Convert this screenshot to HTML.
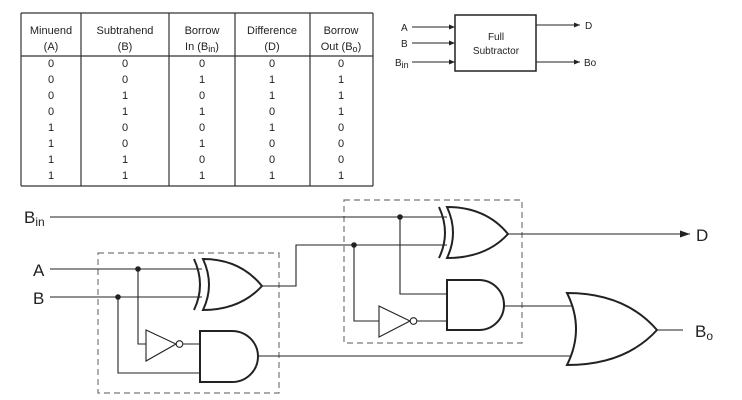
<!DOCTYPE html>
<html><head><meta charset="utf-8"><style>
body{margin:0;background:#fff;}
svg{display:block;font-family:"Liberation Sans",Arial,sans-serif;}
</style></head><body>
<svg width="742" height="400" viewBox="0 0 742 400" xmlns="http://www.w3.org/2000/svg">
<!-- Table -->
<g stroke="#333" stroke-width="1.2">
<line x1="21" y1="13" x2="373" y2="13"/>
<line x1="21" y1="186" x2="373" y2="186"/>
<line x1="21" y1="56" x2="373" y2="56"/>
<line x1="21" y1="13" x2="21" y2="186"/>
<line x1="81" y1="13" x2="81" y2="186"/>
<line x1="169" y1="13" x2="169" y2="186"/>
<line x1="235" y1="13" x2="235" y2="186"/>
<line x1="310" y1="13" x2="310" y2="186"/>
<line x1="373" y1="13" x2="373" y2="186"/>
</g>
<g font-size="11" fill="#222" text-anchor="middle">
<text x="51" y="34">Minuend</text><text x="51" y="50">(A)</text>
<text x="125" y="34">Subtrahend</text><text x="125" y="50">(B)</text>
<text x="202" y="34">Borrow</text><text x="202" y="50">In (B<tspan font-size="9" dy="2">in</tspan><tspan dy="-2">)</tspan></text>
<text x="272" y="34">Difference</text><text x="272" y="50">(D)</text>
<text x="341" y="34">Borrow</text><text x="341" y="50">Out (B<tspan font-size="9" dy="2">o</tspan><tspan dy="-2">)</tspan></text>
</g>
<g font-size="11" fill="#222" text-anchor="middle">
<text x="51" y="67">0</text><text x="125" y="67">0</text><text x="202" y="67">0</text><text x="272" y="67">0</text><text x="341" y="67">0</text>
<text x="51" y="83">0</text><text x="125" y="83">0</text><text x="202" y="83">1</text><text x="272" y="83">1</text><text x="341" y="83">1</text>
<text x="51" y="99">0</text><text x="125" y="99">1</text><text x="202" y="99">0</text><text x="272" y="99">1</text><text x="341" y="99">1</text>
<text x="51" y="115">0</text><text x="125" y="115">1</text><text x="202" y="115">1</text><text x="272" y="115">0</text><text x="341" y="115">1</text>
<text x="51" y="131">1</text><text x="125" y="131">0</text><text x="202" y="131">0</text><text x="272" y="131">1</text><text x="341" y="131">0</text>
<text x="51" y="147">1</text><text x="125" y="147">0</text><text x="202" y="147">1</text><text x="272" y="147">0</text><text x="341" y="147">0</text>
<text x="51" y="163">1</text><text x="125" y="163">1</text><text x="202" y="163">0</text><text x="272" y="163">0</text><text x="341" y="163">0</text>
<text x="51" y="179">1</text><text x="125" y="179">1</text><text x="202" y="179">1</text><text x="272" y="179">1</text><text x="341" y="179">1</text>
</g>

<!-- Block diagram -->
<defs>
<marker id="sa" markerWidth="6" markerHeight="6" refX="6" refY="3" orient="auto" markerUnits="userSpaceOnUse"><path d="M0,0.5 L6,3 L0,5.5z" fill="#222"/></marker>
<marker id="la" markerWidth="10" markerHeight="8" refX="10" refY="4" orient="auto" markerUnits="userSpaceOnUse"><path d="M0,0.5 L10,4 L0,7.5z" fill="#222"/></marker>
</defs>
<rect x="455" y="15" width="81" height="56" fill="none" stroke="#222" stroke-width="1.5"/>
<g font-size="10" fill="#222" text-anchor="middle"><text x="496" y="40">Full</text><text x="496" y="54">Subtractor</text></g>
<g stroke="#222" stroke-width="1">
<line x1="412" y1="27" x2="455" y2="27" marker-end="url(#sa)"/>
<line x1="412" y1="43" x2="455" y2="43" marker-end="url(#sa)"/>
<line x1="412" y1="62" x2="455" y2="62" marker-end="url(#sa)"/>
<line x1="536" y1="25" x2="580" y2="25" marker-end="url(#sa)"/>
<line x1="536" y1="62" x2="580" y2="62" marker-end="url(#sa)"/>
</g>
<g font-size="10" fill="#222">
<text x="401" y="31">A</text><text x="401" y="47">B</text><text x="395" y="66">B<tspan font-size="9" dy="2">in</tspan></text>
<text x="585" y="29">D</text><text x="584" y="66">Bo</text>
</g>

<!-- Dashed boxes -->
<g fill="none" stroke="#777" stroke-width="1.2" stroke-dasharray="6,4">
<rect x="98" y="253" width="181" height="140"/>
<rect x="344" y="200" width="178" height="143"/>
</g>

<!-- Wires -->
<g fill="none" stroke="#222" stroke-width="1.1">
<path d="M50,217 H447"/>
<path d="M50,269 H202"/>
<path d="M50,297 H202"/>
<path d="M262,286 H296 V245 H447"/>
<path d="M138,269 V344 H146"/>
<path d="M183,344 H200"/>
<path d="M118,297 V373 H200"/>
<path d="M400,217 V294 H447"/>
<path d="M354,245 V321 H379"/>
<path d="M417,321 H447"/>
<path d="M504,306 H574"/>
<path d="M258,356 H574"/>
<path d="M508,234 H690" marker-end="url(#la)"/>
<path d="M657,330 H683"/>
</g>
<g fill="#222">
<circle cx="138" cy="269" r="2.8"/><circle cx="118" cy="297" r="2.8"/>
<circle cx="400" cy="217" r="2.8"/><circle cx="354" cy="245" r="2.8"/>
</g>

<!-- Gates -->
<g fill="#fff" stroke="#222" stroke-width="2">
<path d="M203,259 Q240,259 262,286 Q240,310 203,310 Q215,285 203,259z"/>
<path d="M194,259 Q206,285 194,310" fill="none"/>
<path d="M447,207 Q486,207 508,234 Q486,258 447,258 Q459,233 447,207z"/>
<path d="M439,207 Q451,233 439,258" fill="none"/>
<path d="M200,331 H232 A26,25.5 0 0 1 232,382 H200z"/>
<path d="M447,280 H479 A25,25 0 0 1 479,330 H447z"/>
<path d="M567,293 Q625,293 657,330 Q625,365 567,365 Q585,329 567,293z"/>
</g>
<g fill="#fff" stroke="#222" stroke-width="1.1">
<path d="M146,330 L176,344 L146,361z"/>
<circle cx="179.5" cy="344" r="3.3"/>
<path d="M379,306 L410,321 L379,337z"/>
<circle cx="413.5" cy="321" r="3.3"/>
</g>

<!-- Labels -->
<g fill="#222" font-size="17">
<text x="24" y="223">B<tspan font-size="12" dy="3">in</tspan></text>
<text x="33" y="276">A</text>
<text x="33" y="304">B</text>
<text x="696" y="241">D</text>
<text x="695" y="337">B<tspan font-size="12" dy="3">o</tspan></text>
</g>
</svg>
</body></html>
